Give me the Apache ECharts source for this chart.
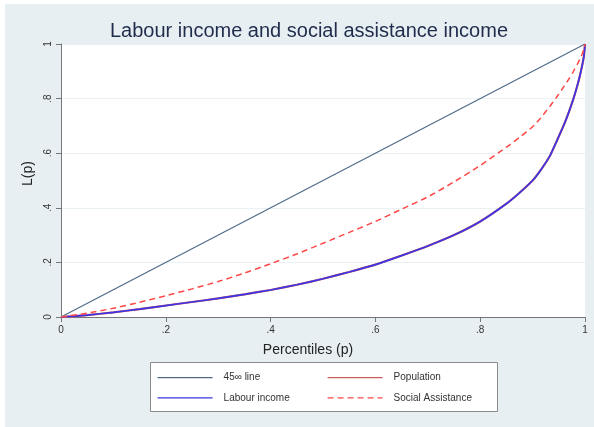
<!DOCTYPE html>
<html>
<head>
<meta charset="utf-8">
<script src="https://cdn.jsdelivr.net/npm/echarts@6/dist/echarts.min.js"></script>
<style>html,body{margin:0;padding:0;background:#fff}#c{width:594px;height:427px}</style>
</head>
<body>
<div id="c"></div>
<script>
const titleText = 'Labour income and social assistance income';
const xTicks = [0, 0.2, 0.4, 0.6, 0.8, 1];
const tickLabels = ['0', '.2', '.4', '.6', '.8', '1'];
const lineP = [0, 1];
const lineL = [0, 1];
const pctP = [0, 0.05, 0.1, 0.15, 0.2, 0.25, 0.3, 0.35, 0.4, 0.45, 0.5, 0.55, 0.6, 0.65, 0.7, 0.75, 0.8, 0.85, 0.875, 0.9, 0.915, 0.933, 0.945, 0.96, 0.97, 0.978, 0.985, 0.99, 0.995, 0.998, 1];
const labourL = [0, 0.007, 0.017, 0.029, 0.042, 0.055, 0.068, 0.083, 0.099, 0.118, 0.14, 0.165, 0.192, 0.225, 0.26, 0.30, 0.35, 0.415, 0.455, 0.50, 0.537, 0.59, 0.64, 0.705, 0.755, 0.80, 0.845, 0.882, 0.925, 0.957, 1];
const populationL = [0, 0.007, 0.017, 0.029, 0.042, 0.055, 0.068, 0.083, 0.099, 0.118, 0.14, 0.165, 0.192, 0.225, 0.26, 0.30, 0.35, 0.415, 0.455, 0.50, 0.537, 0.59, 0.64, 0.705, 0.755, 0.80, 0.845, 0.882, 0.925, 0.957, 1];
const socialL = [0, 0.014, 0.032, 0.054, 0.078, 0.103, 0.13, 0.161, 0.195, 0.231, 0.27, 0.31, 0.35, 0.395, 0.44, 0.495, 0.555, 0.622, 0.658, 0.697, 0.728, 0.772, 0.803, 0.845, 0.874, 0.90, 0.925, 0.944, 0.965, 0.985, 1];
const seriesNames = ['45\u221e line', 'Population', 'Labour income', 'Social Assistance'];

const zip = (xs, ys) => xs.map((x, i) => [x, ys[i]]);
const fmt = v => { const i = xTicks.findIndex(t => Math.abs(t - v) < 1e-9); return i >= 0 ? tickLabels[i] : ''; };
const FONT = '"Liberation Sans", Arial, sans-serif';
const legendCommon = {orient: 'vertical', top: 372, padding: 0, itemWidth: 55, itemHeight: 14, itemGap: 9,
  itemStyle: {opacity: 0}, lineStyle: {width: 1.2},
  formatter: name => '{a|' + name + '}',
  textStyle: {fontFamily: FONT, fontSize: 10, color: '#333', rich: {a: {padding: [0, 0, 0, 6], fontSize: 10, fontFamily: FONT, color: '#333'}}}};

const chart = echarts.init(document.getElementById('c'), null, {renderer: 'canvas'});
chart.setOption({
  animation: false,
  backgroundColor: '#ffffff',
  textStyle: {fontFamily: FONT},
  graphic: [
    {type: 'rect', z: -10, shape: {x: 5, y: 4, width: 589, height: 423}, style: {fill: '#e8eff2'}},
    {type: 'rect', z: 1, shape: {x: 150.5, y: 362.5, width: 347, height: 49}, style: {fill: '#ffffff', stroke: '#8a8a8a', lineWidth: 1}}
  ],
  title: {text: titleText, left: 110, top: 21, padding: 0, textStyle: {fontFamily: FONT, fontSize: 20, fontWeight: 'normal', color: '#1f2c4c'}},
  grid: {left: 61, right: 9, top: 44, bottom: 110, show: true, backgroundColor: '#ffffff', borderWidth: 0},
  xAxis: {type: 'value', min: 0, max: 1, interval: 0.2,
    name: 'Percentiles (p)', nameLocation: 'middle', nameGap: 26,
    nameTextStyle: {fontFamily: FONT, fontSize: 14, color: '#222', padding: [0, 30, 0, 0]},
    axisLine: {lineStyle: {color: '#777', width: 1}},
    axisTick: {show: true, length: 5, lineStyle: {color: '#777'}},
    axisLabel: {formatter: fmt, fontSize: 10, color: '#333', margin: 8},
    splitLine: {show: false}},
  yAxis: {type: 'value', min: 0, max: 1, interval: 0.2,
    name: 'L(p)', nameLocation: 'middle', nameGap: 22, nameRotate: 90,
    nameTextStyle: {fontFamily: FONT, fontSize: 14, color: '#222', padding: [0, 0, 0, 14]},
    axisLine: {show: true, lineStyle: {color: '#777', width: 1}},
    axisTick: {show: true, length: 5, lineStyle: {color: '#777'}},
    axisLabel: {formatter: fmt, fontSize: 10, color: '#333', rotate: 90, margin: 8},
    splitLine: {show: true, lineStyle: {color: '#eaf1f4', width: 1}}},
  legend: [
    Object.assign({left: 157, data: [seriesNames[0], seriesNames[2]]}, legendCommon),
    Object.assign({left: 327, data: [seriesNames[1], seriesNames[3]]}, legendCommon)
  ],
  series: [
    {name: seriesNames[0], type: 'line', data: zip(lineP, lineL), showSymbol: false, symbol: 'none', lineStyle: {color: '#4f6b88', width: 1.2}, itemStyle: {color: '#4f6b88'}},
    {name: seriesNames[1], type: 'line', data: zip(pctP, populationL), smooth: 0.2, showSymbol: false, symbol: 'none', lineStyle: {color: '#d05a5a', width: 2.2}, itemStyle: {color: '#d05a5a'}},
    {name: seriesNames[2], type: 'line', data: zip(pctP, labourL), smooth: 0.2, showSymbol: false, symbol: 'none', lineStyle: {color: '#3a35e6', width: 1.7}, itemStyle: {color: '#3a35e6'}},
    {name: seriesNames[3], type: 'line', data: zip(pctP, socialL), smooth: 0.2, showSymbol: false, symbol: 'none', lineStyle: {color: '#ff4747', width: 1.5, type: [6, 4]}, itemStyle: {color: '#ff4747'}}
  ]
});
</script>
</body>
</html>
